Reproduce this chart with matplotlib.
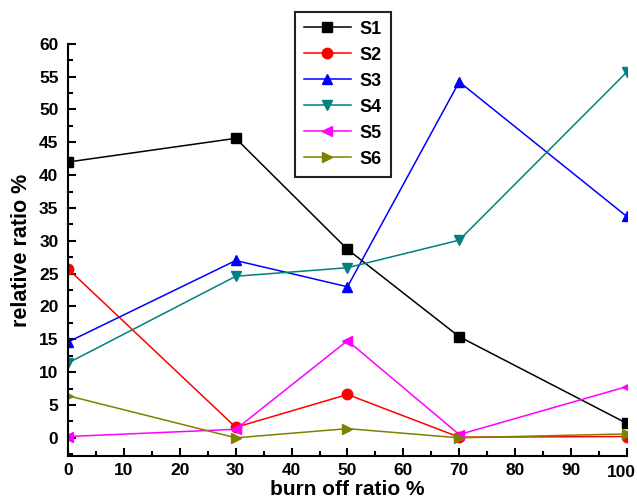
import numpy as np
import matplotlib.pyplot as plt
from matplotlib.ticker import MultipleLocator, FuncFormatter

plt.rcParams['font.family'] = ['Liberation Sans', 'DejaVu Sans']
plt.rcParams['font.weight'] = 'bold'

# burn off ratio values
x = [0, 30, 50, 70, 100]
s1 = [42.0, 45.6, 28.7, 15.4, 2.2]
s2 = [25.7, 1.6, 6.6, 0.1, 0.2]
s3 = [14.6, 27.0, 23.0, 54.2, 33.7]
s4 = [11.4, 24.6, 25.9, 30.1, 55.7]
s5 = [0.2, 1.3, 14.8, 0.5, 7.8]
s6 = [6.4, 0.0, 1.4, 0.0, 0.6]
names = ['S1', 'S2', 'S3', 'S4', 'S5', 'S6']

series = [s1, s2, s3, s4, s5, s6]
colors = ['black', 'red', 'blue', '#008080', 'magenta', '#808000']
markers = ['s', 'o', '^', 'v', '<', '>']

fig = plt.figure(figsize=(6.37, 5.03), dpi=100)
ax = fig.add_axes([0.107, 0.093, 0.877, 0.82])

for ys, c, m, n in zip(series, colors, markers, names):
    ax.plot(x, ys, color=c, marker=m, markersize=7.5, linewidth=1.1, label=n)

ax.set_xlim(0, 100)
ax.set_ylim(-2.8, 60)
ax.xaxis.set_major_locator(MultipleLocator(10))
ax.xaxis.set_minor_locator(MultipleLocator(5))
ax.yaxis.set_major_locator(MultipleLocator(5))
ax.yaxis.set_minor_locator(MultipleLocator(2.5))
ax.tick_params(which='both', direction='in', width=1.5, labelsize=12.5)
ax.tick_params(which='major', length=6)
ax.tick_params(axis='y', which='major', pad=7)
ax.tick_params(axis='x', which='major', pad=5)
ax.tick_params(which='minor', length=3.5)
ax.spines['top'].set_visible(False)
ax.spines['right'].set_visible(False)
ax.spines['left'].set_linewidth(1.5)
ax.spines['bottom'].set_linewidth(1.5)

# "100" sits on the figure edge: draw it a little to the left so it stays inside
ax.xaxis.set_major_formatter(FuncFormatter(lambda v, p: '' if v >= 100 else f'{v:g}'))
ax.annotate('100', xy=(100, 0), xycoords=ax.get_xaxis_transform(),
            xytext=(-4, -5 - 1.5), textcoords='offset points',
            ha='center', va='top', fontsize=12.5, fontweight='bold')

ax.set_xlabel('burn off ratio %', fontweight='bold', fontsize=15, labelpad=1)
ax.set_ylabel('relative ratio %', fontweight='bold', fontsize=15.5, labelpad=5)

leg = ax.legend(loc='upper left', bbox_to_anchor=(0.463, 0.977), bbox_transform=fig.transFigure,
                prop={'weight': 'bold', 'size': 13}, fancybox=False, edgecolor='#222222',
                framealpha=1, handlelength=2.6, labelspacing=0.5, borderpad=0.5,
                handletextpad=0.5, borderaxespad=0)
leg.get_frame().set_linewidth(1.5)

fig.savefig('out.png', dpi=100)
